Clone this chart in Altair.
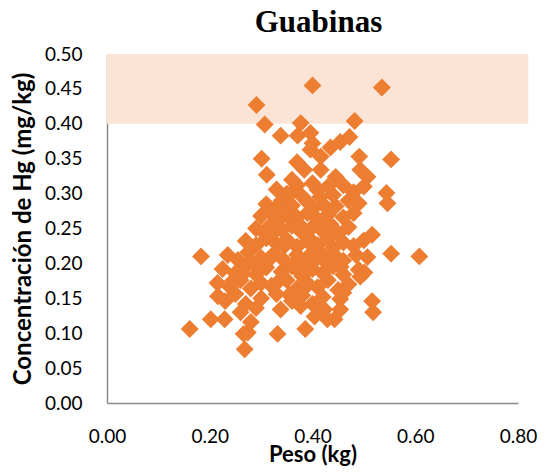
import altair as alt
import pandas as pd

peso = [
    0.400, 0.535, 0.291, 0.307, 0.377, 0.482,
    0.338, 0.371, 0.396, 0.472, 0.454, 0.400,
    0.301, 0.553, 0.396, 0.416, 0.435, 0.491,
    0.311, 0.384, 0.416, 0.445, 0.493, 0.370, 0.360, 0.507, 0.400,
    0.33, 0.35, 0.37, 0.38, 0.41, 0.43, 0.44, 0.46, 0.48, 0.50, 0.544,
    0.31, 0.33, 0.34, 0.36, 0.39, 0.40, 0.42, 0.445, 0.47, 0.49, 0.546,
    0.30, 0.32, 0.335, 0.35, 0.37, 0.39, 0.41, 0.43, 0.46, 0.48,
    0.29, 0.305, 0.32, 0.34, 0.36, 0.38, 0.40, 0.42, 0.435, 0.45, 0.47, 0.516,
    0.27, 0.29, 0.31, 0.33, 0.35, 0.37, 0.39, 0.41, 0.43, 0.44, 0.46, 0.48, 0.50,
    0.183, 0.235, 0.255, 0.275, 0.30, 0.325, 0.345, 0.37, 0.385, 0.40, 0.42, 0.44, 0.46, 0.485, 0.507, 0.553, 0.608,
    0.225, 0.25, 0.27, 0.29, 0.31, 0.34, 0.36, 0.38, 0.40, 0.42, 0.44, 0.46, 0.49, 0.501, 0.493,
    0.215, 0.24, 0.26, 0.28, 0.30, 0.32, 0.35, 0.37, 0.39, 0.41, 0.43, 0.45, 0.47,
    0.216, 0.23, 0.25, 0.27, 0.30, 0.33, 0.36, 0.38, 0.40, 0.42, 0.454, 0.46, 0.516,
    0.202, 0.229, 0.26, 0.29, 0.338, 0.377, 0.404, 0.423, 0.443, 0.454, 0.518,
    0.161, 0.28, 0.274, 0.332, 0.386, 0.429,
    0.268, 0.266,
    0.355, 0.375, 0.395, 0.415, 0.345, 0.365, 0.385, 0.405, 0.425, 0.315,
    0.335, 0.355, 0.285, 0.265, 0.245, 0.325, 0.445, 0.455, 0.415, 0.365,
]
hg = [
    0.455, 0.452, 0.427, 0.399, 0.401, 0.404,
    0.383, 0.383, 0.387, 0.381, 0.374, 0.372,
    0.350, 0.349, 0.363, 0.353, 0.366, 0.353,
    0.327, 0.334, 0.334, 0.324, 0.334, 0.345, 0.320, 0.324, 0.315,
    0.306, 0.300, 0.312, 0.296, 0.305, 0.310, 0.298, 0.312, 0.302, 0.310, 0.301,
    0.285, 0.280, 0.290, 0.283, 0.288, 0.278, 0.285, 0.282, 0.290, 0.286, 0.286,
    0.268, 0.272, 0.262, 0.270, 0.266, 0.272, 0.263, 0.270, 0.266, 0.272,
    0.250, 0.245, 0.256, 0.248, 0.254, 0.244, 0.252, 0.246, 0.256, 0.243, 0.252, 0.241,
    0.232, 0.226, 0.236, 0.228, 0.234, 0.224, 0.232, 0.226, 0.236, 0.222, 0.230, 0.225, 0.233,
    0.210, 0.212, 0.205, 0.216, 0.208, 0.214, 0.204, 0.212, 0.203, 0.216, 0.206, 0.214, 0.204, 0.212, 0.209, 0.214, 0.210,
    0.192, 0.186, 0.196, 0.184, 0.194, 0.188, 0.196, 0.182, 0.192, 0.186, 0.196, 0.184, 0.191, 0.187, 0.181,
    0.172, 0.166, 0.176, 0.164, 0.172, 0.168, 0.176, 0.164, 0.172, 0.166, 0.176, 0.162, 0.170,
    0.153, 0.146, 0.156, 0.142, 0.150, 0.156, 0.146, 0.154, 0.142, 0.152, 0.149, 0.158, 0.146,
    0.120, 0.120, 0.130, 0.136, 0.134, 0.139, 0.124, 0.134, 0.120, 0.134, 0.130,
    0.106, 0.116, 0.101, 0.099, 0.106, 0.120,
    0.077, 0.099,
    0.285, 0.255, 0.235, 0.215, 0.225, 0.195, 0.165, 0.205, 0.255, 0.205,
    0.175, 0.155, 0.200, 0.185, 0.175, 0.245, 0.245, 0.195, 0.295, 0.305,
]

band_lo = [0.40]
band_hi = [0.50]
band_x0 = [0.0]
band_x1 = [0.82]

x_ticks = [0.0, 0.2, 0.4, 0.6, 0.8]
y_ticks = [0.0, 0.05, 0.10, 0.15, 0.20, 0.25, 0.30, 0.35, 0.40, 0.45, 0.50]

df = pd.DataFrame({"peso": peso, "hg": hg})
band = pd.DataFrame({"x0": band_x0, "x1": band_x1, "y0": band_lo, "y1": band_hi})

FONT = "Lato"

xscale = alt.Scale(domain=[0, 0.8], nice=False, zero=True)
yscale = alt.Scale(domain=[0, 0.5], nice=False, zero=True)


def xaxis():
    return alt.Axis(values=x_ticks, format=".2f", title="Peso (kg)", grid=False, ticks=False,
                    domainColor="#8a8a8a", domainWidth=1.5, labelFont=FONT, labelFontSize=19,
                    labelColor="#000000", labelPadding=24, labelFlush=False,
                    labelOverlap=False, titleFont=FONT, titleFontSize=22,
                    titleFontWeight="bold", titleColor="#000000",
                    titleBaseline="alphabetic", titleY=58)


def yaxis():
    return alt.Axis(values=y_ticks, format=".2f", title="Concentración de Hg (mg/kg)",
                    grid=False, ticks=False, domainColor="#8a8a8a", domainWidth=1.5,
                    labelFont=FONT, labelFontSize=19, labelColor="#000000", labelPadding=25,
                    labelFlush=False, labelOverlap=False, labelBound=False,
                    titleFont=FONT, titleFontSize=24, titleFontWeight="bold",
                    titleColor="#000000", titlePadding=9)


rect = alt.Chart(band).mark_rect(color="#FBE4D5").encode(
    x=alt.X("x0:Q", scale=xscale, axis=xaxis()),
    x2="x1:Q",
    y=alt.Y("y0:Q", scale=yscale, axis=yaxis()),
    y2="y1:Q",
)

pts = alt.Chart(df).mark_point(shape="diamond", filled=True, size=320, opacity=1,
                                color="#ED7D31").encode(
    x=alt.X("peso:Q", scale=xscale, axis=xaxis()),
    y=alt.Y("hg:Q", scale=yscale, axis=yaxis()),
)

chart = alt.layer(rect, pts).properties(
    width=411,
    height=349,
    autosize=alt.AutoSizeParams(type="none"),
    padding={"left": 99, "top": 46, "right": 19, "bottom": 64},
    title=alt.Title("Guabinas", font="Liberation Serif", fontSize=31, fontWeight="bold",
                    color="#000000", anchor="middle", offset=6, dx=6),
).configure_view(stroke=None).configure_axis(labelOverlap=False, labelFlush=False)

chart.save("out.html", embed_options={"renderer": "svg", "actions": False})
